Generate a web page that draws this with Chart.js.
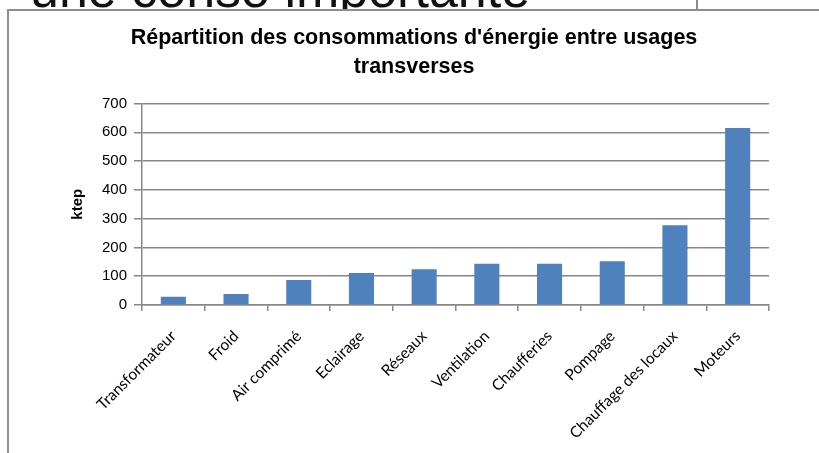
<!DOCTYPE html>
<html>
<head>
<meta charset="utf-8">
<script src="https://cdn.jsdelivr.net/npm/chart.js@4"></script>
<style>
  html, body { margin: 0; padding: 0; width: 819px; height: 453px; overflow: hidden; background: #fff; }
  #bgtext { position: absolute; left: 30px; top: -37px; font-family: "Liberation Sans", Arial, sans-serif; font-size: 52px; line-height: 1; color: #111; white-space: nowrap; z-index: 0; }
  #vline { position: absolute; left: 696px; top: 0; width: 2px; height: 10px; background: #8a8a8a; z-index: 0; }
  #frame { position: absolute; left: 7px; top: 9px; width: 900px; height: 600px; border: 2px solid #8e8e8e; background: #fff; z-index: 1; }
  #wrap { position: absolute; left: 9px; top: 11px; width: 810px; height: 442px; z-index: 2; }
</style>
</head>
<body>
<div id="bgtext">une conso importante</div>
<div id="vline"></div>
<div id="frame"></div>
<div id="wrap"><canvas id="c"></canvas></div>
<script>
const titleLines = ["Répartition des consommations d'énergie entre usages", "transverses"];
const yAxisTitle = "ktep";
const categories = ["Transformateur", "Froid", "Air comprimé", "Eclairage", "Réseaux", "Ventilation", "Chaufferies", "Pompage", "Chauffage des locaux", "Moteurs"];
const values = [29, 38, 87, 111, 124, 143, 143, 152, 277, 615];
const yMin = 0, yMax = 700, yStep = 100;

const gridColor = "#878787";

new Chart(document.getElementById("c"), {
  type: "bar",
  data: {
    labels: categories,
    datasets: [{
      data: values,
      backgroundColor: "#4F81BD",
      borderWidth: 0,
      barPercentage: 0.4,
      categoryPercentage: 1.0
    }]
  },
  options: {
    responsive: true,
    maintainAspectRatio: false,
    animation: false,
    layout: { padding: { left: 50, right: 50, top: 0, bottom: 0 } },
    plugins: {
      legend: { display: false },
      tooltip: { enabled: false },
      title: {
        display: true,
        text: titleLines,
        color: "#000",
        font: { family: "'Liberation Sans', Arial, sans-serif", size: 21.5, weight: "bold", lineHeight: 1.35 },
        padding: { top: 12.5, bottom: 22 }
      }
    },
    scales: {
      x: {
        offset: true,
        grid: { display: true, drawOnChartArea: false, drawTicks: true, tickLength: 6, color: gridColor, lineWidth: 1.5, offset: true },
        border: { display: true, color: gridColor, width: 1.5 },
        ticks: {
          color: "#000",
          font: { family: "Lato, 'Open Sans', sans-serif", size: 15.5 },
          maxRotation: 45, minRotation: 45, autoSkip: false, padding: 16
        },
        afterFit: (s) => { s.height = 148; }
      },
      y: {
        min: yMin, max: yMax,
        ticks: { stepSize: yStep, color: "#000", font: { family: "'Liberation Sans', Arial, sans-serif", size: 15 }, padding: 7 },
        grid: { color: gridColor, lineWidth: 1.5, tickLength: 8, drawTicks: true },
        border: { display: true, color: gridColor, width: 1.5 },
        title: { display: true, text: yAxisTitle, color: "#000", font: { family: "'Liberation Sans', Arial, sans-serif", size: 15, weight: "bold", lineHeight: 1.2 }, padding: { top: 9.5, bottom: 0 } },
        afterFit: (s) => { s.width = 83; }
      }
    }
  }
});
</script>
</body>
</html>
